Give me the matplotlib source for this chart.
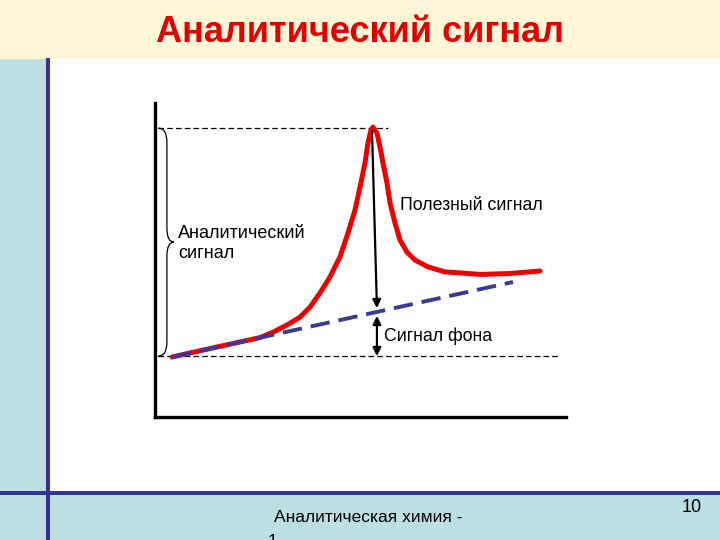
import matplotlib
matplotlib.use("Agg")
import matplotlib.pyplot as plt
from matplotlib.patches import Rectangle, PathPatch
from matplotlib.path import Path

plt.rcParams['font.family'] = ['Liberation Sans', 'DejaVu Sans']

# ---- data (arbitrary units) ----
curve_x = [4.14, 10.95, 18.98, 25.55, 28.71, 32.12, 35.28, 37.71, 40.15, 42.58,
           45.01, 46.96, 48.66, 49.88, 51.09, 51.82, 52.55, 53.04, 54.01, 54.74,
           55.47, 56.45, 57.18, 58.39, 59.61, 61.31, 63.26, 66.42, 70.56, 74.21,
           79.08, 86.37, 93.67]
curve_y = [19.1, 21.1, 23.4, 25.3, 27.0, 29.3, 31.8, 35.0, 39.5, 44.6,
           51.0, 58.6, 65.9, 73.2, 80.9, 87.3, 91.4, 92.3, 90.4, 86.0,
           80.9, 74.5, 68.2, 61.8, 56.4, 52.5, 50.0, 47.8, 46.2, 45.9,
           45.4, 45.7, 46.5]
base_x = [4.14, 87.1]
base_y = [19.1, 43.0]
peak_level = 92.0
bg_level = 19.4
peak_x = 52.8
bg_at_peak = 34.7
arrow_x = 54.0

title = "Аналитический сигнал"
lbl_analytic = "Аналитический\nсигнал"
lbl_useful = "Полезный сигнал"
lbl_bg = "Сигнал фона"
footer = "Аналитическая химия -"
footer2 = "1"
page = "10"

W, H = 720, 540
fig = plt.figure(figsize=(7.2, 5.4), dpi=100)
fig.patch.set_facecolor('white')

def rect(x0, y0, x1, y1, color):
    # pixel box (top-left origin) -> figure fraction
    fig.add_artist(Rectangle((x0 / W, 1 - y1 / H), (x1 - x0) / W, (y1 - y0) / H,
                             transform=fig.transFigure, color=color, lw=0, zorder=0))

cream = '#FFF7D7'
lblue = '#BCDFE3'
dblue = '#333399'
rect(0, 0, 720, 59, cream)
rect(0, 59, 46, 540, lblue)
rect(0, 494, 720, 540, lblue)
rect(46, 58, 50, 540, dblue)
rect(0, 491, 720, 495, dblue)

fig.text(360 / W, 1 - 32 / H, title, color='#E30000', fontsize=26, fontweight='bold',
         ha='center', va='center')
fig.text(274 / W, 1 - 517 / H, footer, color='black', fontsize=12.5, ha='left', va='center')
fig.text(268 / W, 1 - 541 / H, footer2, color='black', fontsize=12.5, ha='left', va='center')
fig.text(692 / W, 1 - 507 / H, page, color='black', fontsize=13, ha='center', va='center')

# ---- axes ----
ax = fig.add_axes([155 / W, 1 - 417 / H, 411 / W, 314 / H])
ax.set_xlim(0, 100)
ax.set_ylim(0, 100)
ax.patch.set_alpha(0)
for s in ['top', 'right']:
    ax.spines[s].set_visible(False)
for s in ['left', 'bottom']:
    ax.spines[s].set_linewidth(2.4)
    ax.spines[s].set_color('black')
ax.set_xticks([])
ax.set_yticks([])

# thin dashed reference lines
ax.plot([0.73, 56.7], [peak_level, peak_level], color='black', lw=0.9,
        linestyle=(0, (4.5, 2.5)), zorder=2)
ax.plot([0.73, 98.5], [bg_level, bg_level], color='black', lw=0.9,
        linestyle=(0, (4.5, 2.5)), zorder=2)

# signal curve
ax.plot(curve_x, curve_y, color='#EE0000', lw=3.6, solid_joinstyle='round',
        solid_capstyle='round', zorder=3)
# background line
ax.plot(base_x, base_y, color='#3A3A96', lw=2.8, linestyle=(0, (5, 2.3)), zorder=4)

# arrows
ax.annotate('', xy=(arrow_x, bg_at_peak), xytext=(peak_x, peak_level - 0.9),
            arrowprops=dict(arrowstyle='-|>', color='black', lw=1.6,
                            mutation_scale=12, shrinkA=0, shrinkB=0), zorder=5)
ax.annotate('', xy=(arrow_x, bg_level), xytext=(arrow_x, 32.2),
            arrowprops=dict(arrowstyle='<|-|>', color='black', lw=1.6,
                            mutation_scale=12, shrinkA=0, shrinkB=0), zorder=5)

# brace
bx0, bx1, bx2 = 0.73, 2.9, 4.6
mid = (peak_level + bg_level) / 2
r = 4.5
verts = [(bx0, peak_level), (bx1, peak_level), (bx1, peak_level - r),
         (bx1, mid + r), (bx1, mid), (bx2, mid),
         (bx1, mid), (bx1, mid - r),
         (bx1, bg_level + r), (bx1, bg_level), (bx0, bg_level)]
codes = [Path.MOVETO, Path.CURVE3, Path.CURVE3,
         Path.LINETO, Path.CURVE3, Path.CURVE3,
         Path.CURVE3, Path.CURVE3,
         Path.LINETO, Path.CURVE3, Path.CURVE3]
ax.add_patch(PathPatch(Path(verts, codes), fill=False, lw=0.9, color='black', zorder=2))

# labels
ax.text(5.6, 55.3, lbl_analytic, fontsize=13, ha='left', va='center', linespacing=1.25)
ax.text(59.7, 67.2, lbl_useful, fontsize=12.8, ha='left', va='center')
ax.text(55.8, 25.8, lbl_bg, fontsize=12.8, ha='left', va='center')

fig.savefig('out.png', dpi=100)
